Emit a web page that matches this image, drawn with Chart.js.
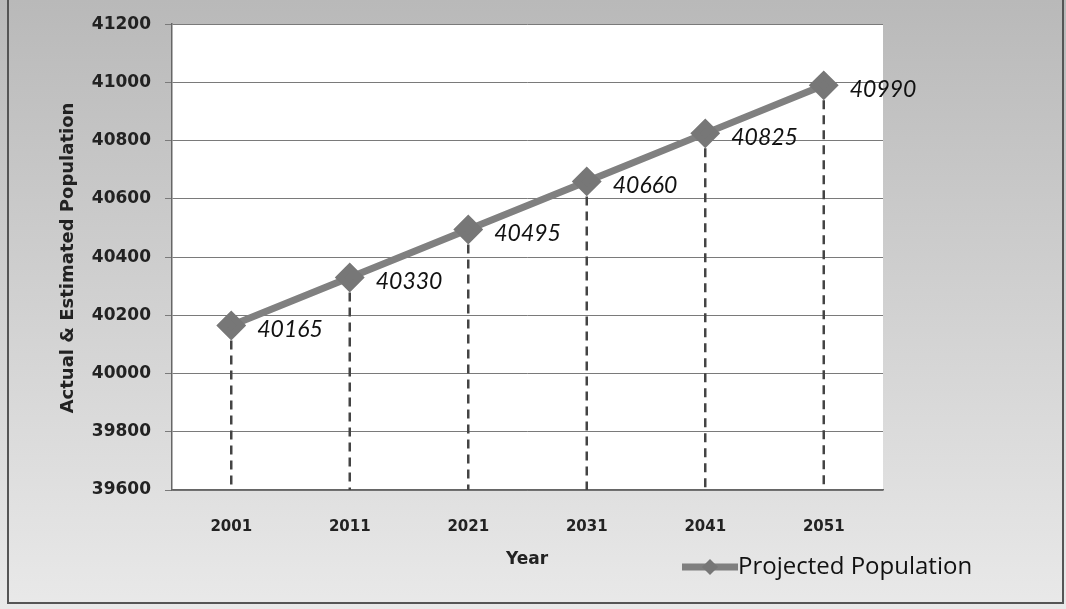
<!DOCTYPE html>
<html>
<head>
<meta charset="utf-8">
<script src="https://cdn.jsdelivr.net/npm/chart.js@4"></script>
<style>
  body { margin: 0; background: #fff; }
  #wrap { width: 1066px; height: 609px; position: relative; }
</style>
</head>
<body>
<div id="wrap"><canvas id="chart"></canvas></div>
<script>
// values
const years = ['2001', '2011', '2021', '2031', '2041', '2051'];
const population = [40165, 40330, 40495, 40660, 40825, 40990];
const yMin = 39600;
const yMax = 41200;
const yStep = 200;
const seriesName = 'Projected Population';
const xTitle = 'Year';
const yTitle = 'Actual & Estimated Population';

// gray gradient panel + border
const panelBg = {
  id: 'panelBg',
  beforeDraw(chart) {
    const { ctx, width, height } = chart;
    const g = ctx.createLinearGradient(0, 0, 0, height);
    g.addColorStop(0, '#b9b9b9');
    g.addColorStop(1, '#e9e9e9');
    ctx.save();
    ctx.fillStyle = g;
    ctx.fillRect(0, 0, width, height);
    const a = chart.chartArea;
    ctx.fillStyle = '#ffffff';
    ctx.fillRect(a.left, a.top, a.right - a.left, a.bottom - a.top);
    ctx.strokeStyle = '#555';
    ctx.lineWidth = 2;
    ctx.beginPath();
    ctx.moveTo(8, 0);
    ctx.lineTo(8, 603);
    ctx.lineTo(1063, 603);
    ctx.lineTo(1063, 0);
    ctx.stroke();
    ctx.restore();
  }
};

// dashed drop lines, value labels, titles, legend
const extras = {
  id: 'extras',
  beforeDatasetsDraw(chart) {
    const { ctx } = chart;
    const x = chart.scales.x, y = chart.scales.y;
    ctx.save();
    ctx.strokeStyle = '#444';
    ctx.lineWidth = 2.5;
    ctx.setLineDash([9, 6]);
    population.forEach((v, i) => {
      const px = x.getPixelForValue(i);
      ctx.beginPath();
      ctx.moveTo(px, y.getPixelForValue(v));
      ctx.lineTo(px, y.bottom);
      ctx.stroke();
    });
    ctx.restore();
  },
  afterDraw(chart) {
    const { ctx } = chart;
    const x = chart.scales.x, y = chart.scales.y;
    ctx.save();
    ctx.fillStyle = '#111';
    ctx.font = 'italic 23px Lato';
    ctx.textAlign = 'left';
    ctx.textBaseline = 'middle';
    population.forEach((v, i) => {
      ctx.fillText(String(v), x.getPixelForValue(i) + 26, y.getPixelForValue(v) + 4);
    });

    // axis titles
    ctx.fillStyle = '#222';
    ctx.font = 'bold 17px "DejaVu Sans"';
    ctx.textAlign = 'center';
    ctx.fillText(xTitle, 527, 560);
    ctx.save();
    ctx.translate(68, 258);
    ctx.rotate(-Math.PI / 2);
    ctx.font = 'bold 18px "DejaVu Sans"';
    ctx.fillText(yTitle, 0, 0);
    ctx.restore();

    // legend
    const ly = 567;
    ctx.strokeStyle = '#7f7f7f';
    ctx.lineWidth = 7;
    ctx.beginPath();
    ctx.moveTo(682, ly);
    ctx.lineTo(738, ly);
    ctx.stroke();
    ctx.fillStyle = '#777';
    ctx.beginPath();
    ctx.moveTo(710, ly - 8);
    ctx.lineTo(718, ly);
    ctx.lineTo(710, ly + 8);
    ctx.lineTo(702, ly);
    ctx.closePath();
    ctx.fill();
    ctx.fillStyle = '#111';
    ctx.font = '24px "Open Sans"';
    ctx.textAlign = 'left';
    ctx.fillText(seriesName, 738, ly);
    ctx.restore();
  }
};

new Chart(document.getElementById('chart'), {
  type: 'line',
  data: {
    labels: years,
    datasets: [{
      label: seriesName,
      data: population,
      borderColor: '#808080',
      borderWidth: 7,
      pointStyle: 'rectRot',
      pointRadius: 10,
      pointBackgroundColor: '#777',
      pointBorderColor: '#777',
      tension: 0
    }]
  },
  options: {
    responsive: true,
    maintainAspectRatio: false,
    animation: false,
    layout: { padding: { left: 72, top: 23, right: 183, bottom: 0 } },
    plugins: {
      legend: { display: false },
      tooltip: { enabled: false }
    },
    scales: {
      x: {
        offset: true,
        afterFit(s) { s.height = 119; },
        grid: { display: false },
        border: { display: true, color: '#666', width: 1.5 },
        ticks: { color: '#222', font: { family: 'DejaVu Sans', weight: 'bold', size: 15 }, padding: 20 }
      },
      y: {
        min: yMin,
        max: yMax,
        afterFit(s) { s.width = 100; },
        grid: { color: '#7a7a7a', lineWidth: 1, tickLength: 7 },
        border: { display: true, color: '#666', width: 1.5 },
        ticks: {
          stepSize: yStep,
          color: '#222',
          padding: 14,
          font: { family: 'DejaVu Sans', weight: 'bold', size: 17 },
          callback: v => String(v)
        }
      }
    }
  },
  plugins: [panelBg, extras]
});
</script>
</body>
</html>
